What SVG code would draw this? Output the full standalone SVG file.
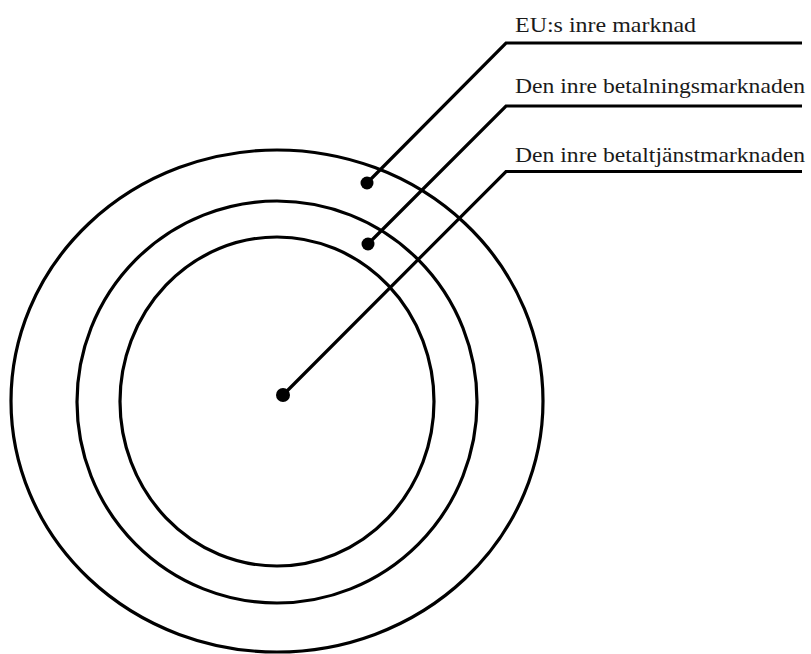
<svg xmlns="http://www.w3.org/2000/svg" width="811" height="654" viewBox="0 0 811 654">
<style>
.ring{fill:none;stroke:#000;stroke-width:3.2}
.lead{fill:none;stroke:#000;stroke-width:3.2;stroke-linejoin:miter}
.dot{fill:#000}
.lbl{font-family:'Liberation Serif','Times New Roman',Times,serif;font-size:21px;fill:#1a1a1a}
</style>
<rect width="811" height="654" fill="#fff"/>
<g id="eu-market">
<ellipse class="ring" cx="277" cy="401" rx="266" ry="251"/>
<circle class="dot" cx="367" cy="183" r="6.5"/>
<text class="lbl" font-family="Liberation Serif, serif" x="515" y="32" textLength="181" lengthAdjust="spacingAndGlyphs">EU:s inre marknad</text>
</g>
<g id="payment-market">
<ellipse class="ring" cx="277" cy="402" rx="200" ry="201"/>
<circle class="dot" cx="368" cy="244" r="6.5"/>
<text class="lbl" font-family="Liberation Serif, serif" x="515" y="93" textLength="290" lengthAdjust="spacingAndGlyphs">Den inre betalningsmarknaden</text>
</g>
<g id="payment-services-market">
<ellipse class="ring" cx="277" cy="401.5" rx="157" ry="164.5"/>
<circle class="dot" cx="283" cy="395" r="7"/>
<text class="lbl" font-family="Liberation Serif, serif" x="515" y="162" textLength="290" lengthAdjust="spacingAndGlyphs">Den inre betaltjänstmarknaden</text>
</g>
<g id="connectors">
<polyline class="lead" points="367,183 506,43 802,43"/>
<polyline class="lead" points="368,244 506,106 802,106"/>
<polyline class="lead" points="283,395 506,171.5 802,171.5"/>
</g>
</svg>
